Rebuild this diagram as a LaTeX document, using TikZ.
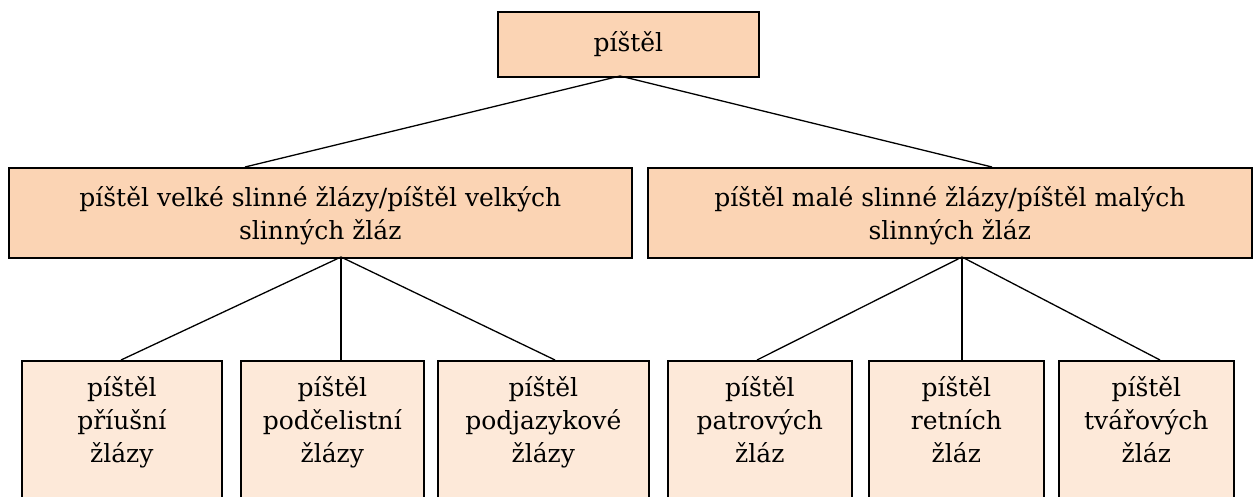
\documentclass[tikz,border=0pt]{standalone}
\usepackage{fontspec}
\setmainfont{DejaVu Serif}
\definecolor{peach}{HTML}{FBD4B4}
\definecolor{lightpeach}{HTML}{FDE9D9}
\tikzset{
  box/.style={draw=black, line width=1.7pt, inner sep=0pt, anchor=north west},
  upper/.style={box, fill=peach},
  lower/.style={box, fill=lightpeach},
  txt/.style={align=center, inner sep=0pt, font=\fontsize{25}{33}\selectfont},
  conn/.style={line width=1.3pt}
}
\begin{document}
\begin{tikzpicture}[x=1pt,y=-1pt]
\useasboundingbox (0,0) rectangle (1253,496);
\begin{scope}
\clip (0,0) rectangle (1253,496);
% top box
\node[upper, minimum width=261pt, minimum height=65pt] (top) at (497,11) {};
\node[txt] (ttop) at (top.center) {píštěl};
% middle boxes
\node[upper, minimum width=623pt, minimum height=90pt] (midL) at (8,167) {};
\node[txt] (tmidL) at ([yshift=-3pt]midL.center) {píštěl velké slinné žlázy/píštěl velkých\\slinných žláz};
\node[upper, minimum width=604pt, minimum height=90pt] (midR) at (647,167) {};
\node[txt] (tmidR) at ([yshift=-3pt]midR.center) {píštěl malé slinné žlázy/píštěl malých\\slinných žláz};
% bottom boxes
\node[lower, minimum width=200pt, minimum height=160pt] (b1) at (21,360) {};
\node[lower, minimum width=183pt, minimum height=160pt] (b2) at (240,360) {};
\node[lower, minimum width=211pt, minimum height=160pt] (b3) at (437,360) {};
\node[lower, minimum width=184pt, minimum height=160pt] (b4) at (667,360) {};
\node[lower, minimum width=175pt, minimum height=160pt] (b5) at (868,360) {};
\node[lower, minimum width=175pt, minimum height=160pt] (b6) at (1058,360) {};
\node[txt, anchor=north] (tb1) at ([yshift=-16pt]b1.north) {píštěl\\příušní\\žlázy};
\node[txt, anchor=north] (tb2) at ([yshift=-16pt]b2.north) {píštěl\\podčelistní\\žlázy};
\node[txt, anchor=north] (tb3) at ([yshift=-16pt]b3.north) {píštěl\\podjazykové\\žlázy};
\node[txt, anchor=north] (tb4) at ([yshift=-16pt]b4.north) {píštěl\\patrových\\žláz};
\node[txt, anchor=north] (tb5) at ([yshift=-16pt]b5.north) {píštěl\\retních\\žláz};
\node[txt, anchor=north] (tb6) at ([yshift=-16pt]b6.north) {píštěl\\tvářových\\žláz};
\end{scope}
% connector points
\coordinate (tj) at (620,76);
\coordinate (mLin) at (245,167);
\coordinate (mRin) at (992,167);
\coordinate (lj) at (341,257);
\coordinate (rj) at (962,257);
\coordinate (b1in) at (121,360);
\coordinate (b2in) at (341,360);
\coordinate (b3in) at (555,360);
\coordinate (b4in) at (757,360);
\coordinate (b5in) at (962,360);
\coordinate (b6in) at (1160,360);
\draw[conn] (tj) -- (mLin);
\draw[conn] (tj) -- (mRin);
\draw[conn] (lj) -- (b1in);
\draw[conn] (lj) -- (b2in);
\draw[conn] (lj) -- (b3in);
\draw[conn] (rj) -- (b4in);
\draw[conn] (rj) -- (b5in);
\draw[conn] (rj) -- (b6in);
\end{tikzpicture}
\end{document}
